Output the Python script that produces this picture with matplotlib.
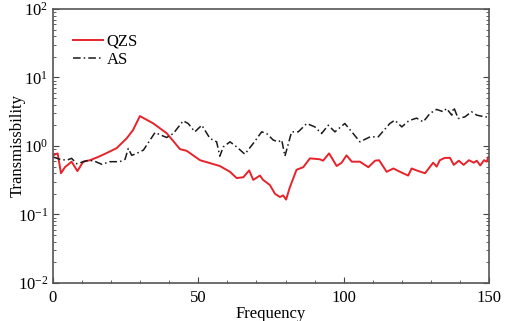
import numpy as np
import matplotlib
matplotlib.use('Agg')
import matplotlib.pyplot as plt
from matplotlib.ticker import MultipleLocator, LogLocator, NullFormatter

plt.rcParams['font.family'] = ['Liberation Serif', 'DejaVu Serif']
plt.rcParams['mathtext.fontset'] = 'stix'

# QZS isolator transmissibility
freq_qzs = [0.0, 1.6, 2.75, 4.1, 6.4, 8.4, 10.4, 12.7, 15.5, 18.5, 21.9, 25.4, 27.5, 29.9,
            34.4, 39.1, 43.7, 46.0, 50.6, 57.4, 60.9, 63.2, 65.5, 67.5, 68.9, 71.2, 72.3,
            74.6, 76.4, 78.1, 79.2, 80.2, 81.5, 83.8, 86.1, 88.4, 91.8, 92.9, 95.0, 97.6,
            99.3, 101.0, 102.8, 105.6, 108.5, 110.8, 112.2, 114.8, 117.1, 119.4, 122.2,
            123.4, 125.1, 128.0, 130.8, 132.0, 133.1, 134.8, 136.6, 137.9, 139.6, 141.3,
            143.1, 144.8, 145.8, 147.0, 148.3, 149.2, 149.8]
trans_qzs = [0.73, 0.78, 0.40, 0.49, 0.59, 0.43, 0.59, 0.62, 0.69, 0.79, 0.93, 1.30, 1.70, 2.73,
             2.15, 1.54, 0.90, 0.85, 0.62, 0.51, 0.42, 0.34, 0.35, 0.44, 0.32, 0.37, 0.32,
             0.27, 0.20, 0.18, 0.19, 0.165, 0.25, 0.45, 0.49, 0.66, 0.64, 0.61, 0.78, 0.51,
             0.57, 0.73, 0.59, 0.59, 0.49, 0.61, 0.62, 0.42, 0.47, 0.42, 0.37,
             0.47, 0.44, 0.40, 0.57, 0.50, 0.62, 0.67, 0.67, 0.53, 0.61, 0.53,
             0.62, 0.57, 0.61, 0.52, 0.62, 0.59, 0.69]

# AS (passive) isolator transmissibility
freq_as = [0.0, 2.4, 4.7, 6.4, 8.2, 11.6, 13.9, 16.8, 19.6, 23.0, 24.8, 25.9, 27.1, 28.8,
           31.1, 35.1, 39.1, 41.4, 44.8, 46.5, 48.8, 51.2, 54.0, 56.3, 57.4, 58.6, 60.9,
           63.2, 66.0, 68.9, 71.8, 73.5, 75.8, 77.5, 78.7, 79.8, 82.1, 84.4, 87.3, 90.1,
           92.4, 94.7, 97.0, 100.4, 102.8, 105.6, 109.1, 111.9, 115.9, 117.6, 120.0,
           122.5, 125.1, 127.4, 129.7, 132.0, 134.3, 135.4, 137.2, 137.9, 139.4, 141.7,
           144.0, 145.8, 148.6, 149.7]
trans_as = [0.69, 0.64, 0.62, 0.66, 0.55, 0.61, 0.61, 0.54, 0.59, 0.59, 0.64, 0.92, 0.73, 0.78,
            0.87, 1.57, 1.33, 1.52, 2.33, 2.13, 1.61, 2.01, 1.29, 1.15, 0.71, 0.97, 1.15,
            0.97, 0.76, 1.09, 1.61, 1.52, 1.22, 1.15, 1.22, 0.71, 1.61, 1.61, 2.13, 1.90,
            1.52, 2.01, 1.61, 2.13, 1.61, 1.15, 1.36, 1.36, 2.13, 2.38, 1.90,
            2.35, 2.55, 2.25, 2.99, 3.42, 3.16, 3.53, 2.82, 3.66, 2.52, 2.66,
            3.16, 2.82, 2.66, 2.66]

fig = plt.figure(figsize=(5.12, 3.21), dpi=100)
ax = fig.add_axes([0.1035, 0.1184, 0.8515, 0.8536])

ax.plot(freq_qzs, trans_qzs, color='#e8222a', lw=1.4, label='QZS')
ax.plot(freq_as, trans_as, color='#1a1a1a', lw=1.1, dashes=(5, 2, 1, 2), label='AS')

ax.set_yscale('log')
ax.set_xlim(0, 150)
ax.set_ylim(1e-2, 1e2)
ax.xaxis.set_major_locator(MultipleLocator(50))
ax.xaxis.set_minor_locator(MultipleLocator(10))
ax.yaxis.set_major_locator(LogLocator(base=10, numticks=10))
ax.yaxis.set_minor_locator(LogLocator(base=10, subs=np.arange(2, 10), numticks=20))
ax.yaxis.set_minor_formatter(NullFormatter())

ax.tick_params(which='both', direction='in', top=False, right=True, labelsize=12,
               color='#444444')
ax.tick_params(which='major', length=4)
ax.tick_params(which='minor', length=2.5)
ax.tick_params(axis='x', pad=5)
for s in ax.spines.values():
    s.set_color('#555555')
    s.set_linewidth(1.2)

ax.set_xlabel('Frequency', fontsize=12, labelpad=0)
ax.set_ylabel('Transmissbility', fontsize=12)
ax.yaxis.set_label_coords(-0.063, 0.5)

ax.legend(loc='upper left', bbox_to_anchor=(0.045, 0.91), frameon=False, fontsize=12,
          handlelength=1.8, handletextpad=0.25, labelspacing=0.15, borderaxespad=0,
          borderpad=0)

fig.savefig('out.png', dpi=100)
